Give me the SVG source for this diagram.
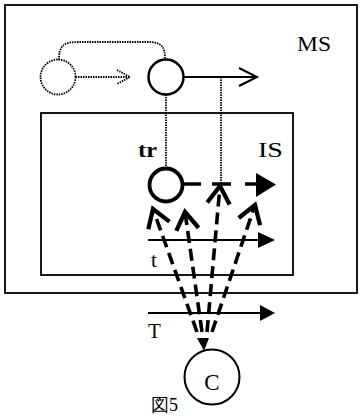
<svg xmlns="http://www.w3.org/2000/svg" width="360" height="417" viewBox="0 0 360 417">
<style>
.lbl{font-family:"Liberation Serif","Times New Roman",serif;fill:#000}
.box{fill:none;stroke:#000;stroke-width:1.8}
.dot{fill:none;stroke:#000;stroke-width:1.8;stroke-dasharray:1.5 1}
.solid{fill:none;stroke:#000;stroke-width:2}
.thick{fill:none;stroke:#000;stroke-width:3.5}
.dash{fill:none;stroke:#000;stroke-width:3.6;stroke-dasharray:12 6}
</style>
<defs>
<marker id="chev" markerUnits="userSpaceOnUse" markerWidth="30" markerHeight="30" refX="0" refY="0" viewBox="-16 -12 20 24" orient="auto" overflow="visible">
<path d="M -14 -9 L 0 0 L -14 9" fill="none" stroke="#000" stroke-width="3.4" stroke-dasharray="none"/>
</marker>
</defs>
<rect width="360" height="417" fill="#fff"/>
<g id="MS">
<rect class="box" x="5" y="5" width="352" height="288"/>
<text class="lbl" x="297" y="51" font-size="22" textLength="34" lengthAdjust="spacingAndGlyphs">MS</text>
</g>
<g id="IS">
<rect class="box" x="41" y="113" width="252" height="162"/>
<text class="lbl" x="258" y="157" font-size="21" textLength="25" lengthAdjust="spacingAndGlyphs">IS</text>
</g>
<g id="prev">
<circle class="dot" cx="58" cy="77" r="17.5"/>
</g>
<g id="cur">
<circle cx="166" cy="77" r="17.5" fill="none" stroke="#000" stroke-width="2.5"/>
</g>
<g id="tr">
<circle cx="166" cy="185" r="16.5" fill="none" stroke="#000" stroke-width="3.8"/>
<text class="lbl" x="138" y="157" font-size="20" font-weight="bold" textLength="19" lengthAdjust="spacingAndGlyphs">tr</text>
</g>
<g id="C">
<circle cx="212" cy="377" r="27.5" fill="none" stroke="#000" stroke-width="2"/>
<text class="lbl" x="212" y="390" font-size="23" text-anchor="middle">C</text>
</g>
<g id="t-axis">
<text class="lbl" x="151" y="267" font-size="21">t</text>
</g>
<g id="T-axis">
<text class="lbl" x="148" y="338" font-size="21">T</text>
</g>
<g id="caption">
<text class="lbl" x="151" y="411" font-size="18" font-family="'Noto Sans CJK JP','Liberation Serif',serif">図5</text>
</g>
<g id="connectors">
<path class="dot" d="M 59 60 C 59 46, 63 42, 78 42 L 148 42 C 162 42, 165 47, 165 59.5"/>
<line class="dot" x1="75.5" y1="77" x2="129" y2="77"/>
<polyline class="dot" points="117,70 130,77 117,84"/>
<line class="solid" x1="183.5" y1="77" x2="256" y2="77"/>
<polyline class="solid" points="239,68 257,77 239,86"/>
<line class="dot" x1="166" y1="94.5" x2="166" y2="168"/>
<line class="dot" x1="221" y1="77" x2="221" y2="184"/>
<line class="thick" x1="182" y1="184" x2="201" y2="184"/>
<line class="thick" x1="212" y1="184" x2="231" y2="184"/>
<line class="thick" x1="245" y1="184" x2="258" y2="184"/>
<polygon points="256,173 276,184.5 256,197" fill="#000"/>
<line class="solid" x1="148" y1="240" x2="260" y2="240"/>
<polygon points="258,232 275,240 258,248" fill="#000"/>
<line class="solid" x1="148" y1="313" x2="262" y2="313"/>
<polygon points="260,305 275,313 260,321" fill="#000"/>
<line class="dash" x1="197" y1="332" x2="153" y2="209" marker-end="url(#chev)"/>
<line class="dash" x1="202" y1="332" x2="185" y2="212" marker-end="url(#chev)"/>
<line class="dash" x1="207" y1="332" x2="220" y2="186" marker-end="url(#chev)"/>
<line class="dash" x1="212" y1="332" x2="255" y2="205" marker-end="url(#chev)"/>
<polygon points="197,338 209,338 204,351" fill="#000"/>
</g>
</svg>
